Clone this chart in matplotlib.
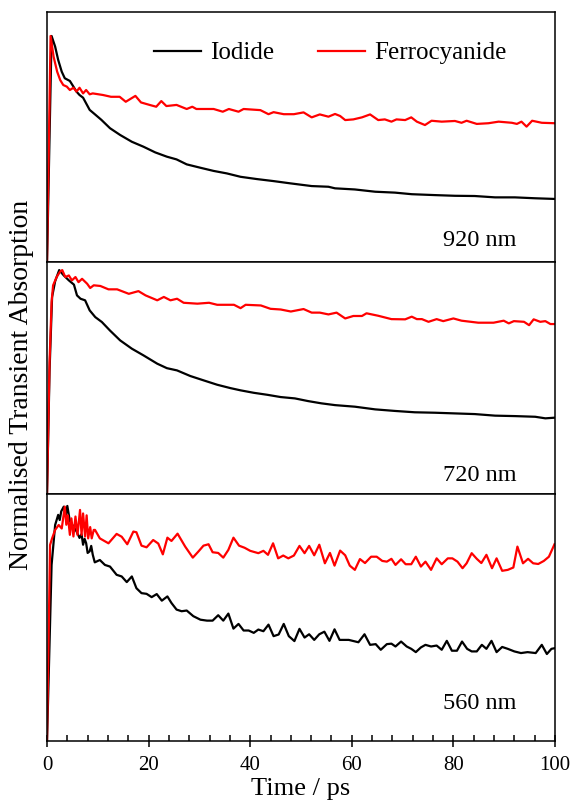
import matplotlib
matplotlib.use("Agg")
import matplotlib.pyplot as plt
from matplotlib.ticker import MultipleLocator, NullLocator

plt.rcParams['font.family'] = ['Liberation Serif', 'DejaVu Serif']

# ---- 920 nm ----
t_io_920 = [0, 0.9, 1.6, 2.2, 2.9, 3.5, 4.5, 5.2, 5.8, 6.4, 7.1, 7.7, 8.4, 9.4, 10.7, 12.4, 14.4, 16.7, 19.0, 21.3,
            23.6, 25.5, 27.5, 30.2, 32.8, 35.4, 38.1, 41.3, 44.6, 47.9, 52.1, 55.4, 56.7, 60.6, 64.6, 68.5, 71.8,
            76.4, 80.3, 84.2, 88.2, 92.1, 96.1, 100]
io_920 = [0, 1.0, 0.953, 0.894, 0.842, 0.813, 0.801, 0.776, 0.754, 0.739, 0.727, 0.702, 0.673, 0.654, 0.629, 0.592,
          0.562, 0.532, 0.51, 0.485, 0.466, 0.454, 0.432, 0.417, 0.403, 0.392, 0.377, 0.367, 0.358, 0.348, 0.336,
          0.333, 0.326, 0.321, 0.311, 0.307, 0.3, 0.296, 0.293, 0.292, 0.286, 0.286, 0.282, 0.279]
t_fc_920 = [0, 0.7, 1.3, 2.0, 2.6, 3.2, 3.9, 4.5, 5.2, 5.8, 6.4, 7.1, 7.7, 8.4, 9.0, 11.0, 12.6, 14.3, 15.5, 17.4,
            18.5, 20.2, 21.5, 22.5, 23.5, 25.5, 27.5, 28.6, 29.4, 32.8, 34.6, 35.8, 37.7, 38.7, 42.0, 43.6, 44.6,
            46.6, 48.6, 50.5, 52.1, 53.7, 55.4, 56.7, 57.7, 58.7, 60.3, 62.0, 63.6, 65.2, 66.5, 67.8, 68.8, 70.5,
            71.7, 72.8, 74.4, 75.7, 77.7, 80.3, 81.6, 82.6, 84.6, 86.9, 88.9, 91.5, 92.5, 93.4, 94.4, 95.5, 97.4, 100]
fc_920 = [0, 1.0, 0.908, 0.842, 0.805, 0.783, 0.776, 0.761, 0.771, 0.754, 0.771, 0.746, 0.761, 0.742, 0.746, 0.739,
          0.731, 0.731, 0.709, 0.735, 0.706, 0.695, 0.687, 0.712, 0.69, 0.695, 0.677, 0.687, 0.677, 0.677, 0.665,
          0.677, 0.665, 0.677, 0.672, 0.654, 0.663, 0.654, 0.654, 0.662, 0.64, 0.653, 0.643, 0.655, 0.646, 0.628,
          0.631, 0.64, 0.653, 0.628, 0.631, 0.621, 0.631, 0.628, 0.64, 0.621, 0.606, 0.625, 0.621, 0.624, 0.616,
          0.625, 0.611, 0.614, 0.621, 0.616, 0.611, 0.621, 0.599, 0.625, 0.616, 0.614]

# ---- 720 nm ----
t_io_720 = [0, 0.5, 1.0, 1.6, 2.4, 3.3, 4.3, 5.3, 5.9, 6.6, 7.5, 8.4, 9.5, 10.8, 12.4, 14.4, 16.7, 19.0, 21.7, 23.6,
            25.6, 28.2, 30.9, 33.5, 36.1, 38.1, 40.7, 43.4, 46.0, 48.8, 51.4, 54.0, 56.7, 60.6, 64.6, 68.5, 72.4,
            76.4, 80.3, 84.2, 88.2, 92.1, 96.1, 98.1, 100]
io_720 = [0, 0.55, 0.88, 0.95, 1.0, 0.976, 0.954, 0.935, 0.887, 0.872, 0.865, 0.82, 0.79, 0.768, 0.73, 0.686, 0.649,
          0.619, 0.582, 0.562, 0.552, 0.527, 0.507, 0.488, 0.473, 0.463, 0.452, 0.443, 0.433, 0.427, 0.415, 0.405,
          0.397, 0.39, 0.378, 0.371, 0.365, 0.363, 0.36, 0.357, 0.35, 0.348, 0.345, 0.338, 0.341]
t_fc_720 = [0, 0.5, 0.9, 1.2, 1.9, 2.6, 3.0, 3.6, 4.3, 4.9, 5.6, 6.2, 6.9, 7.9, 8.5, 9.2, 10.5, 12.1, 13.8, 16.1,
            18.0, 19.4, 21.7, 23.0, 24.3, 25.6, 26.9, 29.6, 31.9, 33.5, 36.8, 38.1, 39.1, 42.1, 44.0, 46.0, 48.0,
            50.5, 52.1, 53.7, 55.4, 57.0, 58.7, 60.3, 62.0, 62.9, 65.2, 67.8, 70.5, 71.8, 72.8, 73.8, 75.1, 76.7,
            78.0, 80.0, 81.6, 84.9, 87.9, 89.9, 90.9, 91.9, 93.9, 94.9, 95.8, 97.1, 98.1, 99.1, 100]
fc_720 = [0, 0.589, 0.857, 0.932, 0.969, 0.994, 1.0, 0.969, 0.976, 0.954, 0.969, 0.946, 0.961, 0.939, 0.92, 0.932,
          0.929, 0.914, 0.914, 0.894, 0.906, 0.887, 0.865, 0.88, 0.865, 0.872, 0.854, 0.85, 0.854, 0.845, 0.845,
          0.83, 0.845, 0.842, 0.827, 0.824, 0.815, 0.826, 0.81, 0.81, 0.802, 0.81, 0.784, 0.795, 0.795, 0.807,
          0.796, 0.781, 0.78, 0.792, 0.781, 0.781, 0.769, 0.781, 0.772, 0.784, 0.774, 0.765, 0.765, 0.774, 0.762,
          0.772, 0.769, 0.754, 0.78, 0.769, 0.772, 0.759, 0.759]

# ---- 560 nm ----
t_io_560 = [0, 0.9, 1.6, 2.2, 2.5, 2.8, 3.3, 3.7, 4.0, 4.5, 5.2, 5.8, 6.4, 6.8, 7.1, 7.4, 7.7, 8.0, 8.4, 8.7,
            9.0, 9.4, 10.4, 11.4, 12.4, 13.7, 14.7, 15.7, 16.7, 17.6, 18.6, 19.6, 20.6, 21.6, 22.6, 23.7, 24.5,
            25.5, 26.5, 27.5, 28.8, 30.2, 31.5, 32.6, 33.7, 34.7, 35.7, 36.7, 37.7, 38.7, 39.7, 40.7, 41.6, 42.6,
            43.6, 44.6, 45.6, 46.6, 47.6, 48.7, 49.7, 50.7, 51.6, 52.6, 53.6, 54.6, 55.6, 56.6, 57.6, 59.4, 61.3,
            62.5, 63.6, 64.7, 65.7, 66.9, 67.8, 68.6, 69.7, 70.8, 71.7, 72.6, 73.6, 74.5, 75.6, 76.7, 77.7, 78.7,
            79.7, 80.7, 81.7, 82.7, 83.6, 84.6, 85.6, 86.5, 87.5, 88.5, 89.6, 90.7, 92.0, 93.3, 94.6, 96.2, 97.4,
            98.4, 99.3, 100]
io_560 = [0, 0.749, 0.919, 0.962, 0.94, 0.977, 0.997, 0.96, 1.0, 0.935, 0.913, 0.892, 0.864, 0.88, 0.835, 0.86,
          0.842, 0.80, 0.807, 0.83, 0.793, 0.76, 0.77, 0.749, 0.742, 0.707, 0.70, 0.676, 0.70, 0.65, 0.629, 0.626,
          0.612, 0.625, 0.597, 0.615, 0.587, 0.559, 0.552, 0.555, 0.531, 0.516, 0.512, 0.512, 0.535, 0.512, 0.542,
          0.478, 0.498, 0.47, 0.47, 0.46, 0.474, 0.467, 0.495, 0.446, 0.453, 0.498, 0.446, 0.425, 0.477, 0.44,
          0.454, 0.43, 0.454, 0.465, 0.426, 0.475, 0.43, 0.43, 0.42, 0.454, 0.409, 0.412, 0.388, 0.412, 0.414,
          0.402, 0.423, 0.402, 0.392, 0.378, 0.398, 0.409, 0.402, 0.406, 0.388, 0.426, 0.384, 0.384, 0.423, 0.392,
          0.381, 0.381, 0.409, 0.392, 0.426, 0.378, 0.40, 0.392, 0.381, 0.374, 0.378, 0.374, 0.409, 0.37, 0.392,
          0.395]
t_fc_560 = [0, 0.6, 1.0, 1.6, 2.3, 2.9, 3.5, 3.8, 4.1, 4.5, 4.8, 5.2, 5.6, 6.0, 6.5, 6.8, 7.1, 7.5, 7.8, 8.1,
            8.5, 8.8, 9.2, 9.45, 10.4, 12.1, 13.7, 14.7, 15.8, 17.0, 17.6, 18.6, 19.6, 20.9, 21.9, 22.8, 23.7, 24.5,
            25.7, 27.2, 28.7, 29.8, 30.8, 31.8, 32.6, 33.7, 34.7, 35.7, 36.7, 37.8, 38.9, 40.0, 41.6, 42.6, 43.5,
            44.5, 45.5, 46.5, 47.5, 48.6, 49.7, 50.7, 51.6, 52.6, 53.6, 54.7, 55.7, 56.6, 57.7, 58.7, 59.6, 60.6,
            61.6, 62.6, 63.8, 64.9, 66.0, 66.9, 67.8, 68.6, 69.7, 70.6, 71.7, 72.6, 73.6, 74.5, 75.6, 76.7, 77.7,
            78.9, 79.8, 80.8, 81.8, 82.6, 83.6, 84.6, 85.5, 86.5, 87.6, 88.5, 89.6, 90.7, 91.8, 92.6, 93.7, 94.7,
            95.7, 96.7, 97.8, 98.8, 99.9]
fc_560 = [0, 0.834, 0.862, 0.898, 0.919, 0.904, 0.997, 0.92, 0.96, 0.877, 0.947, 0.87, 0.955, 0.877, 0.983, 0.877,
          0.968, 0.87, 0.96, 0.862, 0.91, 0.862, 0.898, 0.898, 0.862, 0.841, 0.881, 0.869, 0.837, 0.891, 0.888,
          0.831, 0.824, 0.855, 0.84, 0.794, 0.865, 0.851, 0.882, 0.827, 0.78, 0.806, 0.831, 0.837, 0.803, 0.80,
          0.78, 0.813, 0.865, 0.831, 0.822, 0.809, 0.799, 0.809, 0.792, 0.841, 0.777, 0.789, 0.777, 0.789, 0.83,
          0.799, 0.83, 0.79, 0.835, 0.756, 0.80, 0.746, 0.81, 0.79, 0.746, 0.728, 0.774, 0.757, 0.784, 0.784,
          0.766, 0.763, 0.775, 0.749, 0.773, 0.752, 0.752, 0.784, 0.742, 0.763, 0.728, 0.777, 0.752, 0.777, 0.777,
          0.763, 0.735, 0.756, 0.799, 0.775, 0.757, 0.792, 0.735, 0.777, 0.724, 0.728, 0.738, 0.827, 0.756, 0.775,
          0.756, 0.753, 0.766, 0.784, 0.837]

panel_labels = ['920 nm', '720 nm', '560 nm']
series_names = ['Iodide', 'Ferrocyanide']

panels = [
    (t_io_920, io_920, t_fc_920, fc_920),
    (t_io_720, io_720, t_fc_720, fc_720),
    (t_io_560, io_560, t_fc_560, fc_560),
]

# panel boxes [left, bottom, width, height] in figure fraction
boxes = [
    [0.0819, 0.6733, 0.885, 0.3117],
    [0.0819, 0.3840, 0.885, 0.2893],
    [0.0819, 0.0761, 0.885, 0.3080],
]
ytops = [1.106, 1.036, 1.051]
label_y = [0.088, 0.082, 0.15]

fig = plt.figure(figsize=(5.74, 8.02), dpi=100)

axes = []
for i, (tb, yb, tr, yr) in enumerate(panels):
    ax = fig.add_axes(boxes[i])
    ax.plot(tb, yb, color='black', lw=1.6, label=series_names[0])
    ax.plot(tr, yr, color='red', lw=1.6, label=series_names[1])
    ax.set_xlim(0, 100)
    ax.set_ylim(0, ytops[i])
    ax.yaxis.set_major_locator(NullLocator())
    for sp in ax.spines.values():
        sp.set_linewidth(1.1)
    ax.text(0.925, label_y[i], panel_labels[i], transform=ax.transAxes,
            ha='right', va='center', fontsize=17.5)
    if i < 2:
        ax.xaxis.set_major_locator(NullLocator())
    axes.append(ax)

axb = axes[-1]
axb.xaxis.set_major_locator(MultipleLocator(20))
axb.xaxis.set_minor_locator(MultipleLocator(4))
axb.tick_params(axis='x', which='major', direction='inout', length=9, width=1.1,
                labelsize=15, pad=6)
axb.tick_params(axis='x', which='minor', direction='in', length=4, width=1.1)

axes[0].legend(loc='center left', bbox_to_anchor=(0.21, 0.836), ncol=2, frameon=False,
               fontsize=18, handlelength=1.9, handletextpad=0.35, columnspacing=1.75,
               borderpad=0, borderaxespad=0)

fig.text(22 / 574, 0.52, 'Normalised Transient Absorption', rotation=90,
         ha='center', va='center', fontsize=20)
fig.text(301 / 574, 0.009, 'Time / ps', ha='center', va='baseline', fontsize=19)

fig.savefig('out.png', dpi=100)
